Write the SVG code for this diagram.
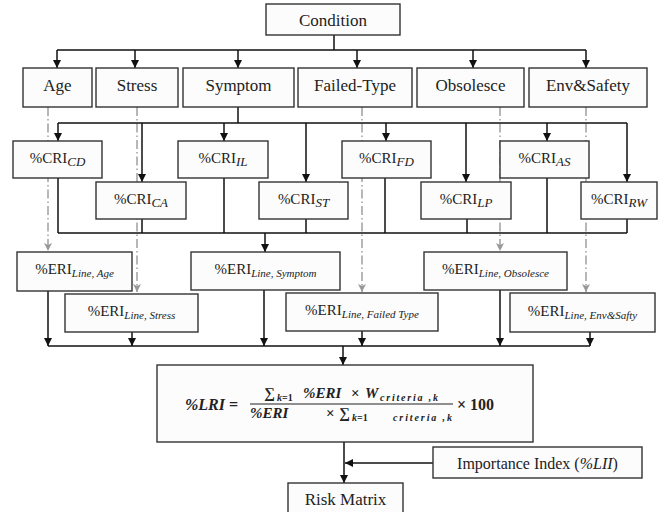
<svg xmlns="http://www.w3.org/2000/svg" width="659" height="512" viewBox="0 0 659 512">
<defs>
<marker id="ab" markerUnits="userSpaceOnUse" markerWidth="8" markerHeight="8" refX="8" refY="4" orient="auto"><path d="M0,0 L8,4 L0,8 z" fill="#111"/></marker>
<marker id="ag" markerUnits="userSpaceOnUse" markerWidth="8" markerHeight="8" refX="8" refY="4" orient="auto"><path d="M0,0 L8,4 L0,8 L2,4 z" fill="#999"/></marker>
</defs>
<style>
.box{fill:#fcfcfc;stroke:#333;stroke-width:1.4}
.t{font-family:"Liberation Serif","Times New Roman",serif;fill:#222;text-anchor:middle}
.l{stroke:#111;stroke-width:1.5;fill:none}
.d{stroke:#999;stroke-width:1.4;fill:none;stroke-dasharray:9 3 1.5 3}
.s{font-style:italic}
.m{font-family:"Liberation Serif","Times New Roman",serif;fill:#222;font-weight:bold;font-style:italic}
.n{font-style:normal}
</style>
<rect width="659" height="512" fill="#fff"/>
<g id="connectors">
<path class="d" d="M48,107 V251" marker-end="url(#ag)"/>
<path class="d" d="M137,107 V292" marker-end="url(#ag)"/>
<path class="d" d="M362,107 V292" marker-end="url(#ag)"/>
<path class="d" d="M500,107 V251" marker-end="url(#ag)"/>
<path class="d" d="M586,107 V292" marker-end="url(#ag)"/>
<path class="l" d="M334,35 V50 M57,50 H586"/>
<path class="l" d="M57,50 V68" marker-end="url(#ab)"/>
<path class="l" d="M135,50 V68" marker-end="url(#ab)"/>
<path class="l" d="M238,50 V68" marker-end="url(#ab)"/>
<path class="l" d="M357,50 V68" marker-end="url(#ab)"/>
<path class="l" d="M473,50 V68" marker-end="url(#ab)"/>
<path class="l" d="M586,50 V68" marker-end="url(#ab)"/>
<path class="l" d="M238,107 V123 M58,123 H627"/>
<path class="l" d="M58,123 V141" marker-end="url(#ab)"/>
<path class="l" d="M142,123 V182" marker-end="url(#ab)"/>
<path class="l" d="M224,123 V141" marker-end="url(#ab)"/>
<path class="l" d="M306,123 V182" marker-end="url(#ab)"/>
<path class="l" d="M386,123 V141" marker-end="url(#ab)"/>
<path class="l" d="M466,123 V182" marker-end="url(#ab)"/>
<path class="l" d="M547,123 V141" marker-end="url(#ab)"/>
<path class="l" d="M627,123 V182" marker-end="url(#ab)"/>
<path class="l" d="M58,178 V233 M142,219 V233 M224,178 V233 M306,219 V233 M385,178 V233 M467,219 V233 M547,178 V233 M627,219 V233 M58,233 H627"/>
<path class="l" d="M265,233 V252" marker-end="url(#ab)"/>
<path class="l" d="M48,291 V346" marker-end="url(#ab)"/>
<path class="l" d="M132,332 V346" marker-end="url(#ab)"/>
<path class="l" d="M264,290 V346" marker-end="url(#ab)"/>
<path class="l" d="M362,331 V346" marker-end="url(#ab)"/>
<path class="l" d="M500,290 V346" marker-end="url(#ab)"/>
<path class="l" d="M590,332 V346" marker-end="url(#ab)"/>
<path class="l" d="M48,346 H590"/>
<path class="l" d="M343,346 V365" marker-end="url(#ab)"/>
<path class="l" d="M344,442 V483" marker-end="url(#ab)"/>
<path class="l" d="M433,463 H345" marker-end="url(#ab)"/>
</g>
<g id="condition"><rect class="box" x="266" y="4" width="134" height="31"/><text class="t" x="333" y="26" font-size="17">Condition</text></g>
<g id="age"><rect class="box" x="23" y="68" width="69" height="39"/><text class="t" x="57.5" y="91" font-size="17">Age</text></g>
<g id="stress"><rect class="box" x="96" y="68" width="82" height="39"/><text class="t" x="137" y="91" font-size="17">Stress</text></g>
<g id="symptom"><rect class="box" x="183" y="68" width="111" height="39"/><text class="t" x="238.5" y="91" font-size="17">Symptom</text></g>
<g id="failed-type"><rect class="box" x="298" y="68" width="114" height="39"/><text class="t" x="355" y="91" font-size="17">Failed-Type</text></g>
<g id="obsolesce"><rect class="box" x="417" y="68" width="107" height="39"/><text class="t" x="470.5" y="91" font-size="17">Obsolesce</text></g>
<g id="envsafety"><rect class="box" x="529" y="68" width="118" height="39"/><text class="t" x="588" y="91" font-size="17">Env&amp;Safety</text></g>
<g id="cri-cd"><rect class="box" x="13" y="141" width="89" height="37"/><text class="t" x="57.5" y="163" font-size="15">%CRI<tspan class="s" font-size="13" dy="3">CD</tspan></text></g>
<g id="cri-il"><rect class="box" x="178" y="141" width="90" height="37"/><text class="t" x="223" y="163" font-size="15">%CRI<tspan class="s" font-size="13" dy="3">IL</tspan></text></g>
<g id="cri-fd"><rect class="box" x="342" y="141" width="89" height="37"/><text class="t" x="386.5" y="163" font-size="15">%CRI<tspan class="s" font-size="13" dy="3">FD</tspan></text></g>
<g id="cri-as"><rect class="box" x="500" y="141" width="89" height="37"/><text class="t" x="544.5" y="163" font-size="15">%CRI<tspan class="s" font-size="13" dy="3">AS</tspan></text></g>
<g id="cri-ca"><rect class="box" x="96" y="182" width="90" height="37"/><text class="t" x="141" y="204" font-size="15">%CRI<tspan class="s" font-size="13" dy="3">CA</tspan></text></g>
<g id="cri-st"><rect class="box" x="259" y="182" width="89" height="37"/><text class="t" x="303.5" y="204" font-size="15">%CRI<tspan class="s" font-size="13" dy="3">ST</tspan></text></g>
<g id="cri-lp"><rect class="box" x="421" y="182" width="90" height="37"/><text class="t" x="466" y="204" font-size="15">%CRI<tspan class="s" font-size="13" dy="3">LP</tspan></text></g>
<g id="cri-rw"><rect class="box" x="581" y="182" width="76" height="37"/><text class="t" x="619" y="204" font-size="15">%CRI<tspan class="s" font-size="13" dy="3">RW</tspan></text></g>
<g id="eri-age"><rect class="box" x="17" y="252" width="115" height="39"/><text class="t" x="74.5" y="274" font-size="15">%ERI<tspan class="s" font-size="11" dy="3">Line, Age</tspan></text></g>
<g id="eri-symptom"><rect class="box" x="191" y="252" width="149" height="38"/><text class="t" x="265.5" y="274" font-size="15">%ERI<tspan class="s" font-size="11" dy="3">Line, Symptom</tspan></text></g>
<g id="eri-obsolesce"><rect class="box" x="424" y="252" width="143" height="38"/><text class="t" x="495.5" y="274" font-size="15">%ERI<tspan class="s" font-size="11" dy="3">Line, Obsolesce</tspan></text></g>
<g id="eri-stress"><rect class="box" x="65" y="294" width="133" height="38"/><text class="t" x="131.5" y="316" font-size="15">%ERI<tspan class="s" font-size="11" dy="3">Line, Stress</tspan></text></g>
<g id="eri-failed"><rect class="box" x="286" y="293" width="152" height="38"/><text class="t" x="362" y="315" font-size="15">%ERI<tspan class="s" font-size="11" dy="3">Line, Failed Type</tspan></text></g>
<g id="eri-env"><rect class="box" x="510" y="293" width="145" height="39"/><text class="t" x="582.5" y="316" font-size="15">%ERI<tspan class="s" font-size="11" dy="3">Line, Env&amp;Safty</tspan></text></g>
<g id="lri">
<rect class="box" x="157" y="365" width="376" height="77"/>
<text class="m" x="185" y="410" font-size="16">%LRI <tspan class="n">=</tspan></text>
<text class="m n" x="264" y="398" font-size="15">∑</text>
<text class="m" x="277" y="401" font-size="10">k<tspan class="n">=1</tspan></text>
<text class="m" x="303" y="398" font-size="15">%ERI</text>
<text class="m n" x="351" y="398" font-size="15">×</text>
<text class="m" x="365" y="398" font-size="15">W</text>
<text class="m" x="380" y="401" font-size="10" textLength="58" lengthAdjust="spacing">criteria ,k</text>
<path d="M250,404 H453" stroke="#222" stroke-width="1.2"/>
<text class="m" x="250" y="418" font-size="15">%ERI</text>
<text class="m n" x="326" y="418" font-size="15">×</text>
<text class="m n" x="339" y="418" font-size="15">∑</text>
<text class="m" x="352" y="421" font-size="10">k<tspan class="n">=1</tspan></text>
<text class="m" x="393" y="421" font-size="10" textLength="59" lengthAdjust="spacing">criteria ,k</text>
<text class="m n" x="457" y="410" font-size="16">× 100</text>
</g>
<g id="importance"><rect class="box" x="433" y="447" width="209" height="31"/><text class="t" x="537.5" y="469" font-size="16">Importance Index (<tspan class="s">%LII</tspan>)</text></g>
<g id="risk"><rect class="box" x="288" y="483" width="115" height="34"/><text class="t" x="345.5" y="505" font-size="17">Risk Matrix</text></g>
</svg>
